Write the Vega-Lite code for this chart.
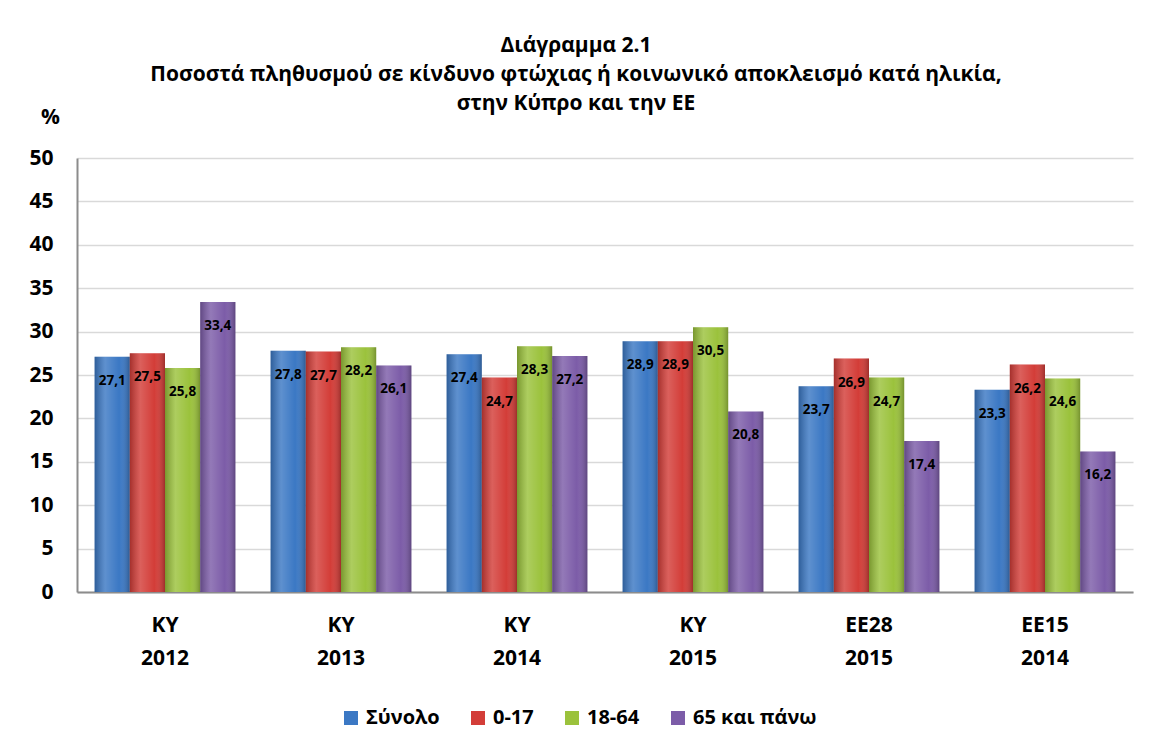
{
  "$schema": "https://vega.github.io/schema/vega-lite/v6.json",
  "width": 1056,
  "height": 434,
  "autosize": "none",
  "padding": {"left": 77, "top": 158, "right": 18, "bottom": 157},
  "background": "white",
  "title": {
    "text": ["Διάγραμμα 2.1", "Ποσοστά πληθυσμού  σε κίνδυνο φτώχιας ή κοινωνικό αποκλεισμό κατά ηλικία,", "στην Κύπρο και την ΕΕ"],
    "font": "Open Sans", "fontSize": 21, "fontWeight": "bold", "color": "black",
    "anchor": "middle", "dx": -29, "dy": 6, "offset": -23, "lineHeight": 29, "baseline": "bottom"
  },
  "data": {
    "values": [
      {"g": "ΚΥ|2012", "s": "Σύνολο", "v": 27.1}, {"g": "ΚΥ|2012", "s": "0-17", "v": 27.5}, {"g": "ΚΥ|2012", "s": "18-64", "v": 25.8}, {"g": "ΚΥ|2012", "s": "65 και πάνω", "v": 33.4},
      {"g": "ΚΥ|2013", "s": "Σύνολο", "v": 27.8}, {"g": "ΚΥ|2013", "s": "0-17", "v": 27.7}, {"g": "ΚΥ|2013", "s": "18-64", "v": 28.2}, {"g": "ΚΥ|2013", "s": "65 και πάνω", "v": 26.1},
      {"g": "ΚΥ|2014", "s": "Σύνολο", "v": 27.4}, {"g": "ΚΥ|2014", "s": "0-17", "v": 24.7}, {"g": "ΚΥ|2014", "s": "18-64", "v": 28.3}, {"g": "ΚΥ|2014", "s": "65 και πάνω", "v": 27.2},
      {"g": "ΚΥ|2015", "s": "Σύνολο", "v": 28.9}, {"g": "ΚΥ|2015", "s": "0-17", "v": 28.9}, {"g": "ΚΥ|2015", "s": "18-64", "v": 30.5}, {"g": "ΚΥ|2015", "s": "65 και πάνω", "v": 20.8},
      {"g": "ΕΕ28|2015", "s": "Σύνολο", "v": 23.7}, {"g": "ΕΕ28|2015", "s": "0-17", "v": 26.9}, {"g": "ΕΕ28|2015", "s": "18-64", "v": 24.7}, {"g": "ΕΕ28|2015", "s": "65 και πάνω", "v": 17.4},
      {"g": "ΕΕ15|2014", "s": "Σύνολο", "v": 23.3}, {"g": "ΕΕ15|2014", "s": "0-17", "v": 26.2}, {"g": "ΕΕ15|2014", "s": "18-64", "v": 24.6}, {"g": "ΕΕ15|2014", "s": "65 και πάνω", "v": 16.2}
    ]
  },
  "transform": [{"calculate": "replace(format(datum.v, '.1f'), '.', ',')", "as": "lbl"}],
  "encoding": {
    "x": {
      "field": "g", "type": "nominal", "sort": null,
      "scale": {"paddingInner": 0.2, "paddingOuter": 0.1},
      "axis": {
        "title": null, "labelAngle": 0, "labelExpr": "split(datum.label, '|')",
        "labelFont": "Open Sans", "labelFontSize": 21, "labelFontWeight": "bold", "labelColor": "black",
        "labelLineHeight": 33, "labelPadding": 22, "ticks": false, "domainColor": "#8c8c8c", "domainWidth": 2
      }
    },
    "xOffset": {"field": "s", "type": "nominal", "sort": ["Σύνολο", "0-17", "18-64", "65 και πάνω"], "scale": {"paddingInner": 0, "paddingOuter": 0}},
    "y": {
      "field": "v", "type": "quantitative",
      "scale": {"domain": [0, 50]},
      "axis": {
        "values": [0, 5, 10, 15, 20, 25, 30, 35, 40, 45, 50],
        "title": "%", "titleAngle": 0, "titleX": -27, "titleY": -41, "titleAlign": "center", "titleBaseline": "middle",
        "titleFont": "Open Sans", "titleFontSize": 21, "titleFontWeight": "bold", "titleColor": "black",
        "labelFont": "Open Sans", "labelFontSize": 21, "labelFontWeight": "bold", "labelColor": "black",
        "labelPadding": 24, "ticks": false, "domainColor": "#8c8c8c", "domainWidth": 2,
        "gridColor": "#d9d9d9", "gridWidth": 1.5
      }
    }
  },
  "layer": [
    {
      "mark": {"type": "bar"},
      "encoding": {
        "color": {
          "field": "s", "type": "nominal", "sort": ["Σύνολο", "0-17", "18-64", "65 και πάνω"],
          "scale": {
            "domain": ["Σύνολο", "0-17", "18-64", "65 και πάνω"],
            "range": ["#3b78c4", "#d33d38", "#9bc23c", "#7c5ca8"]
          },
          "legend": {
            "title": null, "orient": "none", "legendX": 264, "legendY": 550, "direction": "horizontal",
            "symbolType": "square", "symbolSize": 196, "symbolStrokeWidth": 0, "symbolOpacity": 1,
            "labelFont": "Open Sans", "labelFontSize": 20, "labelFontWeight": "bold", "labelColor": "black",
            "labelOffset": 5, "columnPadding": 28
          }
        },
        "opacity": {"value": 1}
      }
    },
    {
      "mark": {
        "type": "bar",
        "color": {"gradient": "linear", "x1": 0, "x2": 1, "y1": 0, "y2": 0, "stops": [
          {"offset": 0, "color": "rgba(0,0,0,0.22)"},
          {"offset": 0.3, "color": "rgba(255,255,255,0.18)"},
          {"offset": 0.7, "color": "rgba(255,255,255,0)"},
          {"offset": 1, "color": "rgba(0,0,0,0.25)"}
        ]}
      },
      "encoding": {}
    },
    {
      "mark": {"type": "text", "baseline": "middle", "dy": 24, "font": "Open Sans", "fontSize": 13.5, "fontWeight": "bold", "color": "black"},
      "encoding": {"text": {"field": "lbl"}}
    }
  ],
  "config": {"view": {"stroke": null}}
}
